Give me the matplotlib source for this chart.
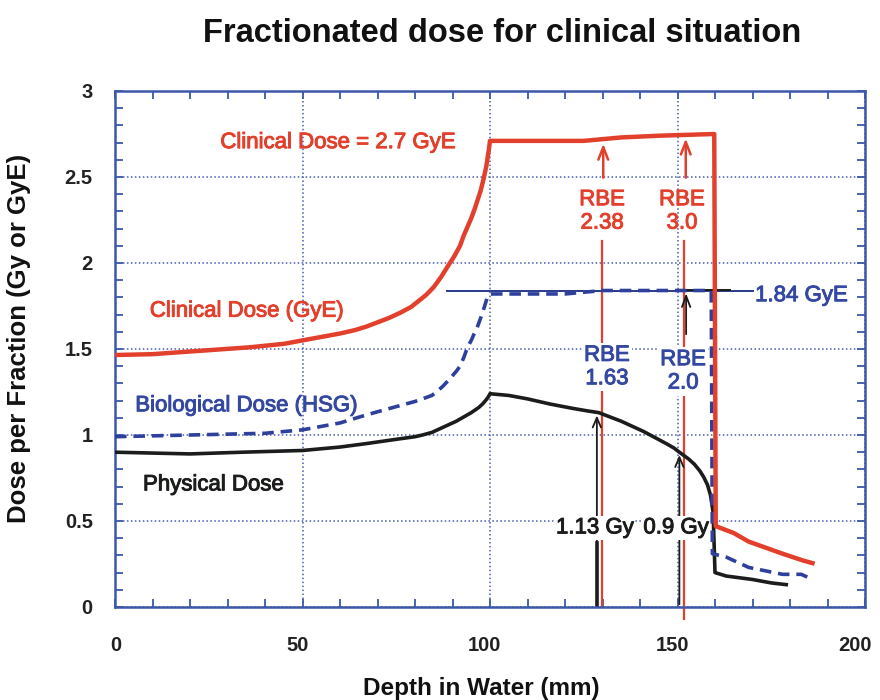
import matplotlib
matplotlib.use("Agg")
import matplotlib.pyplot as plt
import matplotlib.patheffects as pe
import matplotlib.transforms as mtransforms
from matplotlib.ticker import MultipleLocator

plt.rcParams['font.family'] = ['Liberation Sans', 'DejaVu Sans']

# Clinical dose (GyE)
depth_clinical = [0, 10, 23, 36, 45, 50, 55, 60, 64, 67, 70, 73, 76, 79, 81, 83, 85, 87, 89,
                  90.5, 92, 93, 94, 95, 96, 97.5, 98.3, 99, 99.7, 100, 110, 125, 130, 135,
                  145, 159.8, 160.2, 165, 169, 178, 183.5, 186]
clinical_dose = [1.465, 1.47, 1.49, 1.51, 1.53, 1.55, 1.57, 1.59, 1.61, 1.63, 1.655, 1.68,
                 1.71, 1.745, 1.78, 1.815, 1.86, 1.92, 1.99, 2.04, 2.10, 2.16, 2.21, 2.26,
                 2.32, 2.42, 2.49, 2.56, 2.66, 2.71, 2.71, 2.71, 2.72, 2.73, 2.74, 2.75, 0.47,
                 0.43, 0.38, 0.31, 0.27, 0.255]

# Biological dose (HSG)
depth_bio = [0, 20, 40, 50, 60, 66, 70, 75, 80, 82, 84.5, 86, 87.5, 89, 91, 92, 93, 94, 95,
             96, 96.5, 97.5, 98, 99, 99.3, 100, 110, 120, 125, 130, 140, 150, 159, 159.3,
             163, 169, 178, 183, 185]
bio_dose = [0.99, 1.00, 1.01, 1.03, 1.07, 1.11, 1.135, 1.165, 1.195, 1.21, 1.23, 1.255,
            1.285, 1.32, 1.37, 1.40, 1.45, 1.51, 1.55, 1.60, 1.62, 1.68, 1.71, 1.78, 1.80,
            1.82, 1.82, 1.82, 1.83, 1.84, 1.84, 1.84, 1.84, 0.31, 0.29, 0.23, 0.19, 0.19,
            0.17]

# Physical dose (Gy)
depth_phys = [0, 20, 34, 50, 60, 67, 75, 80, 82, 84.5, 86.5, 89, 91, 93, 95, 96, 97, 98, 99,
              99.5, 100, 105, 110, 116, 122, 126, 129, 132, 135, 138, 141, 144, 147, 149,
              150.5, 153, 154.5, 156, 157, 158, 158.8, 159.5, 160, 163, 170, 175, 179]
phys_dose = [0.90, 0.89, 0.90, 0.91, 0.93, 0.95, 0.975, 0.99, 1.0, 1.015, 1.035, 1.06, 1.08,
             1.105, 1.13, 1.145, 1.16, 1.18, 1.205, 1.22, 1.24, 1.23, 1.21, 1.18, 1.155,
             1.14, 1.13, 1.105, 1.08, 1.05, 1.02, 0.985, 0.95, 0.925, 0.90, 0.86, 0.83,
             0.79, 0.755, 0.71, 0.65, 0.55, 0.20, 0.18, 0.16, 0.14, 0.13]

# Reference points: physical dose and RBE at two depths
ref_depths = [129, 151]
ref_phys = [1.13, 0.9]
ref_bio_rbe = ["1.63", "2.0"]
ref_clin_rbe = ["2.38", "3.0"]
bio_plateau = 1.84
clin_plateau = [2.71, 2.74]

x_ticks = [0, 50, 100, 150, 200]
x_tick_labels = ["0", "50", "100", "150", "200"]
y_ticks = [0, 0.5, 1, 1.5, 2, 2.5, 3]
y_tick_labels = ["0", "0.5", "1", "1.5", "2", "2.5", "3"]

RED = '#e2402c'
BLUE = '#2f3f9c'
TXT_BLUE = '#3448a2'
BLACK = '#1b1d1b'
AXIS_BLUE = '#3c58a8'

fig = plt.figure(figsize=(8.8, 7), dpi=100)
ax = fig.add_axes([115 / 880, 93 / 700, 750 / 880, 516 / 700])
ax.set_xlim(0, 200)
ax.set_ylim(0, 3)

# grid and frame
ax.set_xticks(x_ticks)
ax.set_xticklabels(x_tick_labels, fontweight='bold')
ax.set_yticks(y_ticks)
ax.set_yticklabels(y_tick_labels, fontweight='bold')
ax.xaxis.set_minor_locator(MultipleLocator(10))
ax.yaxis.set_minor_locator(MultipleLocator(0.1))
ax.grid(True, which='major', color='#4a5cb4', linestyle=(0, (1, 1.6)), linewidth=1.1)
for s in ax.spines.values():
    s.set_color(AXIS_BLUE)
    s.set_linewidth(1.8)
ax.tick_params(which='both', direction='in', top=True, right=True, color=AXIS_BLUE,
               length=5.5, width=1.3)
ax.tick_params(axis='x', which='major', pad=21, labelsize=14.5, labelcolor='#222222')
ax.tick_params(axis='y', which='major', pad=16, labelsize=14.5, labelcolor='#222222')
# nudge the depth labels slightly left so the last one stays inside the figure
for lab, dx in zip(ax.get_xticklabels(), [1, -5, -6, -5, -10]):
    lab.set_transform(lab.get_transform() +
                      mtransforms.ScaledTranslation(dx / 100, 0, fig.dpi_scale_trans))

heavy = lambda c: [pe.withStroke(linewidth=0.7, foreground=c)]

# vertical reference lines (drawn beneath the curves)
ax.plot([ref_depths[0] + 0.8] * 2, [0, 2.13], color=RED, lw=1.6, zorder=2)
ax.plot([ref_depths[1] + 0.6] * 2, [-0.07, 2.13], color=RED, lw=1.6, zorder=2, clip_on=False)
ax.plot([ref_depths[0] - 0.5] * 2, [0, 0.37], color=BLACK, lw=2.6, zorder=2)
for xd, yp in zip(ref_depths, ref_phys):
    ax.annotate('', xy=(xd - 0.5, yp), xytext=(xd - 0.5, 0),
                arrowprops=dict(arrowstyle='->,head_length=0.7,head_width=0.3',
                                color=BLACK, lw=1.3), zorder=3)
# arrows up to the clinical plateau
for xd, yc in zip(ref_depths, clin_plateau):
    ax.annotate('', xy=(xd + 1.2, yc), xytext=(xd + 1.2, 2.48),
                arrowprops=dict(arrowstyle='->,head_length=0.9,head_width=0.35',
                                color=RED, lw=1.8), zorder=3)
# arrow up to the biological plateau
ax.annotate('', xy=(ref_depths[1] + 1.3, bio_plateau), xytext=(ref_depths[1] + 1.3, 1.57),
            arrowprops=dict(arrowstyle='->,head_length=0.8,head_width=0.3',
                            color=BLACK, lw=1.3), zorder=3)

# 1.84 GyE marker line
ax.plot([88.4, 170], [bio_plateau, bio_plateau], color='#2a3a8c', lw=1.4, zorder=3)
ax.plot([151, 164], [bio_plateau + 0.005] * 2, color=BLACK, lw=1.4, zorder=3)

# dose curves
ax.plot(depth_phys, phys_dose, color=BLACK, lw=2.6, zorder=4, solid_joinstyle='round')
ax.plot(depth_bio, bio_dose, color=BLUE, lw=2.6, dashes=(3.2, 1.9), zorder=4)
ax.plot(depth_clinical, clinical_dose, color=RED, lw=3.2, zorder=5, solid_joinstyle='round')

# curve labels
fs = 16
ax.text(59.5, 2.70, 'Clinical Dose = 2.7 GyE', color=RED, fontsize=fs, ha='center',
        va='center', path_effects=heavy(RED), zorder=6)
ax.text(35.2, 1.72, 'Clinical Dose (GyE)', color=RED, fontsize=fs, ha='center',
        va='center', path_effects=heavy(RED), zorder=6)
ax.text(35.1, 1.17, 'Biological Dose (HSG)', color=TXT_BLUE, fontsize=fs, ha='center',
        va='center', path_effects=heavy(TXT_BLUE), zorder=6)
ax.text(26.3, 0.71, 'Physical Dose', color=BLACK, fontsize=fs, ha='center',
        va='center', path_effects=heavy(BLACK), zorder=6)

# RBE labels
for xd, rbe in zip([129.9, 151.2], ref_clin_rbe):
    ax.text(xd, 2.30, f'RBE\n{rbe}', color=RED, fontsize=fs, ha='center', va='center',
            linespacing=1.15, path_effects=heavy(RED), zorder=6)
for xd, yd, rbe in zip([131.2, 151.5], [1.395, 1.37], ref_bio_rbe):
    ax.text(xd, yd, f'RBE\n{rbe}', color=TXT_BLUE, fontsize=fs, ha='center', va='center',
            linespacing=1.15, path_effects=heavy(TXT_BLUE), zorder=6,
            bbox=dict(facecolor='white', edgecolor='none', pad=1.5))
ax.text(170.7, 1.81, f'{bio_plateau:.2f} GyE', color=TXT_BLUE, fontsize=fs, ha='left',
        va='center', path_effects=heavy(TXT_BLUE), zorder=6)
for xd, yp in zip([128.0, 149.6], ref_phys):
    ax.text(xd, 0.46, f'{yp:g} Gy', color=BLACK, fontsize=fs, ha='center', va='center',
            path_effects=heavy(BLACK), zorder=6,
            bbox=dict(facecolor='white', edgecolor='none', pad=1.0))

# titles
fig.text(502 / 880, 1 - 33 / 700, 'Fractionated dose for clinical situation', fontsize=23.5,
         fontweight='bold', ha='center', va='center', color='#111111')
fig.text(481 / 880, 1 - 688 / 700, 'Depth in Water (mm)', fontsize=17.5, fontweight='bold',
         ha='center', va='center', color='#111111')
fig.text(19 / 880, 1 - 338 / 700, 'Dose per Fraction (Gy or GyE)', fontsize=18.5,
         fontweight='bold', ha='center', va='center', rotation=90, color='#111111')

fig.savefig('out.png', dpi=100)
